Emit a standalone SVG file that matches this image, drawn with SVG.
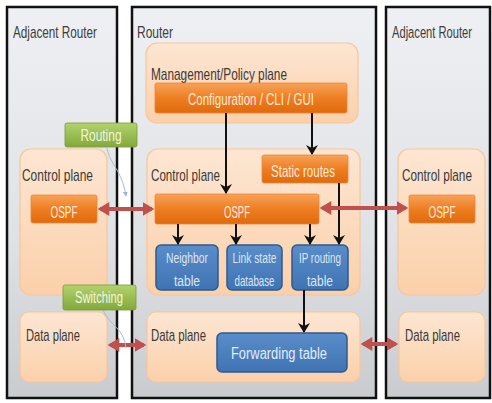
<svg xmlns="http://www.w3.org/2000/svg" width="492" height="403" viewBox="0 0 492 403">
  <defs>
    <linearGradient id="boxFill" x1="0" y1="0" x2="0" y2="1">
      <stop offset="0" stop-color="#eef0f3"/>
      <stop offset="0.6" stop-color="#dfe1e4"/>
      <stop offset="1" stop-color="#c9cbce"/>
    </linearGradient>
    <linearGradient id="planeFill" x1="0" y1="0" x2="0" y2="1">
      <stop offset="0" stop-color="#fde6d2"/>
      <stop offset="1" stop-color="#fbd0aa"/>
    </linearGradient>
    <linearGradient id="barFill" x1="0" y1="0" x2="0" y2="1">
      <stop offset="0" stop-color="#f7a258"/>
      <stop offset="0.5" stop-color="#ee7e22"/>
      <stop offset="1" stop-color="#e06a0c"/>
    </linearGradient>
    <linearGradient id="blueFill" x1="0" y1="0" x2="0" y2="1">
      <stop offset="0" stop-color="#5a8dc9"/>
      <stop offset="1" stop-color="#3f73b3"/>
    </linearGradient>
    <linearGradient id="greenFill" x1="0" y1="0" x2="0" y2="1">
      <stop offset="0" stop-color="#b3d36d"/>
      <stop offset="1" stop-color="#82a83a"/>
    </linearGradient>
    <marker id="blk" viewBox="0 0 10 12" refX="9" refY="6" markerWidth="10" markerHeight="12" markerUnits="userSpaceOnUse" orient="auto">
      <path d="M0,0 L10,6 L0,12 L3,6 z" fill="#111"/>
    </marker>
    <marker id="red" viewBox="0 0 10 12" refX="8" refY="6" markerWidth="12" markerHeight="14" markerUnits="userSpaceOnUse" orient="auto-start-reverse">
      <path d="M0,0 L10,6 L0,12 z" fill="#c0504d"/>
    </marker>
    <marker id="thin" viewBox="0 0 6 6" refX="5" refY="3" markerWidth="5" markerHeight="5" markerUnits="userSpaceOnUse" orient="auto">
      <path d="M0,0 L6,3 L0,6 z" fill="#9fb4cf"/>
    </marker>
    <style>
      text { font-family: "Liberation Sans Narrow", "Liberation Sans", Arial, sans-serif; }
      .router { fill: url(#boxFill); stroke: #111; stroke-width: 2.5; }
      .plane { fill: url(#planeFill); stroke: #f6c79c; stroke-width: 1.2; }
      .bar { fill: url(#barFill); stroke: #e9863a; stroke-width: 0.8; }
      .blue { fill: url(#blueFill); stroke: #2f5a8f; stroke-width: 1.5; }
      .green { fill: url(#greenFill); stroke: #7a9c38; stroke-width: 0.8; }
      .title { font-size: 17px; fill: #3d3d3d; }
      .lbl { font-size: 17px; fill: #3a3a3a; }
      .bartxt { font-size: 16px; fill: #fde9d9; text-anchor: middle; }
      .bluetxt { font-size: 14px; fill: #dce6f2; text-anchor: middle; }
      .greentxt { font-size: 16px; fill: #f0f6e2; text-anchor: middle; }
      .flow { stroke: #111; stroke-width: 2; fill: none; marker-end: url(#blk); }
      .peer { stroke: #c0504d; stroke-width: 4; fill: none; marker-start: url(#red); marker-end: url(#red); }
      .hint { stroke: #a9bcd4; stroke-width: 1; fill: none; }
    </style>
  </defs>

  <rect width="492" height="403" fill="#ffffff"/>

  <!-- Left adjacent router -->
  <g id="adjacent-left">
    <rect class="router" x="7" y="7" width="110" height="391"/>
    <text class="title" x="13" y="38" textLength="84" lengthAdjust="spacingAndGlyphs">Adjacent Router</text>
    <rect class="plane" x="20" y="149" width="87" height="146" rx="11"/>
    <text class="lbl" x="22" y="181" textLength="71" lengthAdjust="spacingAndGlyphs">Control plane</text>
    <rect class="bar" x="31" y="195" width="66" height="28" rx="2"/>
    <text class="bartxt" x="64" y="218" textLength="27" lengthAdjust="spacingAndGlyphs">OSPF</text>
    <rect class="plane" x="20" y="312" width="87" height="70" rx="9"/>
    <text class="lbl" x="26" y="341" textLength="54" lengthAdjust="spacingAndGlyphs">Data plane</text>
  </g>

  <!-- Router -->
  <g id="router">
    <rect class="router" x="132" y="7" width="244" height="391"/>
    <text class="title" x="137" y="38" textLength="36" lengthAdjust="spacingAndGlyphs">Router</text>
  </g>

  <g id="management-plane">
    <rect class="plane" x="146" y="43" width="212" height="80" rx="11"/>
    <text class="lbl" x="151" y="80" textLength="136" lengthAdjust="spacingAndGlyphs">Management/Policy plane</text>
  </g>
  <g id="configuration">
    <rect class="bar" x="155" y="83" width="192" height="30" rx="2"/>
    <text class="bartxt" x="251" y="105" textLength="126" lengthAdjust="spacingAndGlyphs">Configuration / CLI / GUI</text>
  </g>

  <g id="control-plane">
    <rect class="plane" x="147" y="149" width="213" height="146" rx="11"/>
    <text class="lbl" x="151" y="181" textLength="69" lengthAdjust="spacingAndGlyphs">Control plane</text>
  </g>
  <g id="static-routes">
    <rect class="bar" x="262" y="155" width="86" height="28" rx="2"/>
    <text class="bartxt" x="303" y="177" textLength="64" lengthAdjust="spacingAndGlyphs">Static routes</text>
  </g>
  <g id="ospf">
    <rect class="bar" x="155" y="194" width="164" height="30" rx="2"/>
    <text class="bartxt" x="237" y="218" textLength="26" lengthAdjust="spacingAndGlyphs">OSPF</text>
  </g>
  <g id="neighbor-table">
    <rect class="blue" x="156" y="245" width="62" height="45" rx="5"/>
    <text class="bluetxt" x="187" y="263" textLength="42" lengthAdjust="spacingAndGlyphs">Neighbor</text>
    <text class="bluetxt" x="187" y="286" textLength="26" lengthAdjust="spacingAndGlyphs">table</text>
  </g>
  <g id="link-state-database">
    <rect class="blue" x="227" y="245" width="55" height="45" rx="5"/>
    <text class="bluetxt" x="254.5" y="263" textLength="44" lengthAdjust="spacingAndGlyphs">Link state</text>
    <text class="bluetxt" x="254.5" y="286" textLength="40" lengthAdjust="spacingAndGlyphs">database</text>
  </g>
  <g id="ip-routing-table">
    <rect class="blue" x="292" y="245" width="56" height="45" rx="5"/>
    <text class="bluetxt" x="320" y="263" textLength="42" lengthAdjust="spacingAndGlyphs">IP routing</text>
    <text class="bluetxt" x="320" y="286" textLength="26" lengthAdjust="spacingAndGlyphs">table</text>
  </g>

  <g id="data-plane">
    <rect class="plane" x="147" y="312" width="213" height="70" rx="9"/>
    <text class="lbl" x="151" y="341" textLength="55" lengthAdjust="spacingAndGlyphs">Data plane</text>
  </g>
  <g id="forwarding-table">
    <rect class="blue" x="217" y="333" width="130" height="39" rx="5"/>
    <text class="bartxt" x="279" y="359" style="fill:#e4ecf6" textLength="96" lengthAdjust="spacingAndGlyphs">Forwarding table</text>
  </g>

  <!-- Right adjacent router (narrow column: labels condensed by scaling) -->
  <g id="adjacent-right">
    <rect class="router" x="386" y="7" width="104" height="391"/>
    <text class="title" transform="translate(392,38) scale(0.62,1)" x="0" y="0" textLength="129" lengthAdjust="spacingAndGlyphs">Adjacent Router</text>
    <rect class="plane" x="398" y="149" width="87" height="146" rx="11"/>
    <text class="lbl" transform="translate(402,181) scale(0.66,1)" x="0" y="0" textLength="106" lengthAdjust="spacingAndGlyphs">Control plane</text>
    <rect class="bar" x="409" y="195" width="66" height="28" rx="2"/>
    <text class="bartxt" x="442" y="218" textLength="27" lengthAdjust="spacingAndGlyphs">OSPF</text>
    <rect class="plane" x="399" y="312" width="86" height="70" rx="9"/>
    <text class="lbl" x="405" y="341" textLength="55" lengthAdjust="spacingAndGlyphs">Data plane</text>
  </g>

  <!-- Connectors -->
  <g id="connectors">
    <path class="flow" d="M226,113 L226,193"/>
    <path class="flow" d="M312,113 L312,154"/>
    <path class="flow" d="M178,224 L178,244"/>
    <path class="flow" d="M236,224 L236,244"/>
    <path class="flow" d="M310,224 L310,244"/>
    <path class="flow" d="M339,183 L339,244"/>
    <path class="flow" d="M304,290 L304,332"/>
    <path class="peer" d="M100,209 L152,209"/>
    <path class="peer" d="M322,208 L406,208"/>
    <path class="peer" d="M110,345 L144,345"/>
    <path class="peer" d="M363,344 L396,344"/>
    <path class="hint" d="M107,148 C110,165 122,170 126,196" marker-end="url(#thin)"/>
    <path class="hint" d="M103,310 C110,326 124,328 126,348"/>
  </g>

  <!-- Flow labels -->
  <g id="routing-label">
    <rect class="green" x="65" y="123" width="72" height="24" rx="2"/>
    <text class="greentxt" x="101" y="141" textLength="41" lengthAdjust="spacingAndGlyphs">Routing</text>
  </g>
  <g id="switching-label">
    <rect class="green" x="63" y="285" width="73" height="25" rx="2"/>
    <text class="greentxt" x="99" y="303" textLength="48" lengthAdjust="spacingAndGlyphs">Switching</text>
  </g>
</svg>
